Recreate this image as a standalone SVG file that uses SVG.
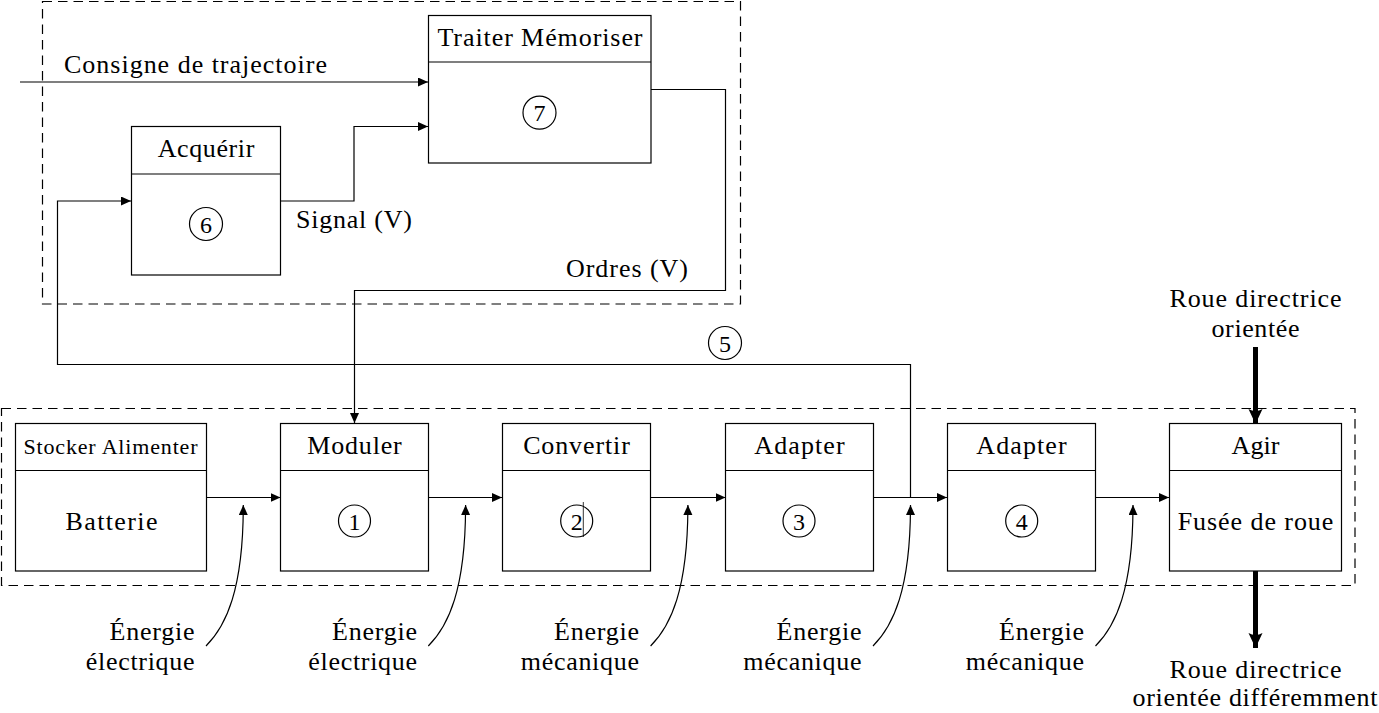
<svg xmlns="http://www.w3.org/2000/svg" width="1379" height="713" viewBox="0 0 1379 713" font-family="Liberation Serif, Times New Roman, serif">
<style>
text{font-size:26px;fill:#000}
.c{text-anchor:middle}
.r{text-anchor:end}
.box{fill:#fff;stroke:#000;stroke-width:1.2}
.ln{fill:none;stroke:#000;stroke-width:1.2}
.dash{fill:none;stroke:#000;stroke-width:1.2;stroke-dasharray:9.5 6}
.num{font-size:24px;text-anchor:middle}
.circ{fill:none;stroke:#000;stroke-width:1.2}
.fat{fill:none;stroke:#000;stroke-width:5}
</style>
<defs>
<marker id="ah" markerUnits="userSpaceOnUse" markerWidth="12" markerHeight="10" refX="10" refY="4.5" orient="auto">
<path d="M0,0 L10,4.5 L0,9 Z" fill="#000"/>
</marker>
<marker id="fh" markerUnits="userSpaceOnUse" markerWidth="16" markerHeight="16" refX="15" refY="7" orient="auto">
<path d="M0,0 Q4,7 0,14 L15,7 Z" fill="#000"/>
</marker>
</defs>
<rect width="1379" height="713" fill="#fff"/>

<g id="frames">
<rect class="dash" x="42.5" y="1.5" width="698" height="302.5"/>
<rect class="dash" x="1.5" y="408.5" width="1353.5" height="177"/>
</g>

<g id="connectors">
<path class="ln" d="M20,82 H428" marker-end="url(#ah)"/>
<path class="ln" d="M281,201 H354 V126.5 H428" marker-end="url(#ah)"/>
<path class="ln" d="M651,89.5 H725.5 V290.5 H354.5 V423" marker-end="url(#ah)"/>
<path class="ln" d="M910.5,497.5 V364.5 H57.5 V201 H131" marker-end="url(#ah)"/>
<path class="ln" d="M206,497.5 H280.5" marker-end="url(#ah)"/>
<path class="ln" d="M428,497.5 H502" marker-end="url(#ah)"/>
<path class="ln" d="M651,497.5 H725.5" marker-end="url(#ah)"/>
<path class="ln" d="M873,497.5 H947" marker-end="url(#ah)"/>
<path class="ln" d="M1095,497.5 H1169" marker-end="url(#ah)"/>
<path class="ln" d="M206,646 C226,626 243.3,590 243.3,505" marker-end="url(#ah)"/>
<path class="ln" d="M428.3,646 C448.3,626 465.6,590 465.6,505" marker-end="url(#ah)"/>
<path class="ln" d="M650.6,646 C670.6,626 687.9,590 687.9,505" marker-end="url(#ah)"/>
<path class="ln" d="M873,646 C893,626 910.5,590 910.5,505" marker-end="url(#ah)"/>
<path class="ln" d="M1095.5,646 C1115.5,626 1133,590 1133,505" marker-end="url(#ah)"/>
<path class="fat" d="M1255.5,347 V424" marker-end="url(#fh)"/>
<path class="fat" d="M1255.5,569 V648" marker-end="url(#fh)"/>
</g>

<g id="labels">
<text x="64" y="73" textLength="263">Consigne de trajectoire</text>
<text x="296" y="228" textLength="116">Signal (V)</text>
<text x="566" y="277" textLength="122">Ordres (V)</text>
<circle class="circ" cx="725" cy="343" r="16.5"/>
<text class="num" x="725" y="351.5">5</text>
<text class="c" x="1255.5" y="307" textLength="172">Roue directrice</text>
<text class="c" x="1255.5" y="337" textLength="88">orientée</text>
<text class="c" x="1255.5" y="678" textLength="172">Roue directrice</text>
<text class="c" x="1255" y="706" textLength="245">orientée différemment</text>
<text class="r" x="194.5" y="640" textLength="85">Énergie</text>
<text class="r" x="194.5" y="670" textLength="108.7">électrique</text>
<text class="r" x="417" y="640" textLength="85">Énergie</text>
<text class="r" x="417" y="670" textLength="108.7">électrique</text>
<text class="r" x="639" y="640" textLength="85">Énergie</text>
<text class="r" x="639" y="670" textLength="118.3">mécanique</text>
<text class="r" x="861.5" y="640" textLength="85">Énergie</text>
<text class="r" x="861.5" y="670" textLength="118.3">mécanique</text>
<text class="r" x="1084" y="640" textLength="85">Énergie</text>
<text class="r" x="1084" y="670" textLength="118.3">mécanique</text>
</g>

<g id="node-traiter">
<rect class="box" x="428.5" y="15.5" width="222.5" height="147.5"/>
<line class="ln" x1="428.5" y1="62" x2="651" y2="62"/>
<text class="c" x="540" y="46" textLength="205">Traiter Mémoriser</text>
<circle class="circ" cx="539.5" cy="112.7" r="16.5"/>
<text class="num" x="539.5" y="121.2">7</text>
</g>

<g id="node-acquerir">
<rect class="box" x="131.5" y="126.5" width="149" height="148.5"/>
<line class="ln" x1="131.5" y1="174" x2="280.5" y2="174"/>
<text class="c" x="206" y="157" textLength="96.7">Acquérir</text>
<circle class="circ" cx="206" cy="224" r="16.5"/>
<text class="num" x="206" y="232.5">6</text>
</g>

<g id="node-stocker">
<rect class="box" x="15.5" y="423.5" width="191" height="147.5"/>
<line class="ln" x1="15.5" y1="470.5" x2="206.5" y2="470.5"/>
<text class="c" x="110.5" y="453.5" style="font-size:22px" textLength="174">Stocker Alimenter</text>
<text class="c" x="111.5" y="530" textLength="92">Batterie</text>
</g>

<g id="node-moduler">
<rect class="box" x="280.5" y="423.5" width="148" height="147.5"/>
<line class="ln" x1="280.5" y1="470.5" x2="428.5" y2="470.5"/>
<text class="c" x="354.5" y="454" textLength="94.4">Moduler</text>
<circle class="circ" cx="354.5" cy="521" r="16"/>
<text class="num" x="354.5" y="529.5">1</text>
</g>

<g id="node-convertir">
<rect class="box" x="502.5" y="423.5" width="148" height="147.5"/>
<line class="ln" x1="502.5" y1="470.5" x2="650.5" y2="470.5"/>
<text class="c" x="576.5" y="454" textLength="106.7">Convertir</text>
<circle class="circ" cx="576.7" cy="521" r="16"/>
<text class="num" x="576.7" y="529.5">2</text>
<line x1="583.3" y1="502" x2="583.3" y2="537" stroke="#000" stroke-width="0.8"/>
</g>

<g id="node-adapter3">
<rect class="box" x="725.5" y="423.5" width="148" height="147.5"/>
<line class="ln" x1="725.5" y1="470.5" x2="873.5" y2="470.5"/>
<text class="c" x="799.5" y="454" textLength="90.3">Adapter</text>
<circle class="circ" cx="799" cy="521" r="16"/>
<text class="num" x="799" y="529.5">3</text>
</g>

<g id="node-adapter4">
<rect class="box" x="947.5" y="423.5" width="148" height="147.5"/>
<line class="ln" x1="947.5" y1="470.5" x2="1095.5" y2="470.5"/>
<text class="c" x="1021.5" y="454" textLength="90.3">Adapter</text>
<circle class="circ" cx="1021.7" cy="521" r="16"/>
<text class="num" x="1021.7" y="529.5">4</text>
</g>

<g id="node-agir">
<rect class="box" x="1169.5" y="423.5" width="172" height="147.5"/>
<line class="ln" x1="1169.5" y1="470.5" x2="1341.5" y2="470.5"/>
<text class="c" x="1255.5" y="454" textLength="48">Agir</text>
<text class="c" x="1255.5" y="530" textLength="155.7">Fusée de roue</text>
</g>
</svg>
